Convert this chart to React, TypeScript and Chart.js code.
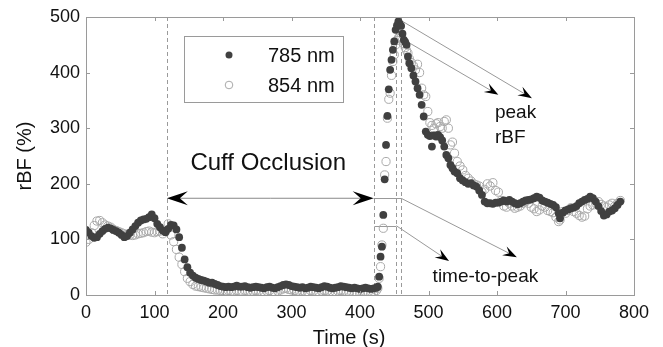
import React, { useEffect, useRef } from "react";
import { Chart, registerables } from "chart.js";

Chart.register(...registerables);

// ---- data ----
const timeSec = [
  0, 4, 8, 12, 16, 20, 24, 28, 32, 36,
  40, 44, 48, 52, 56, 60, 64, 68, 72, 76,
  80, 84, 88, 92, 96, 100, 104, 108, 112, 116,
  120, 124, 128, 132, 136, 140, 144, 148, 152, 156,
  160, 164, 168, 172, 176, 180, 184, 188, 192, 196,
  200, 204, 208, 212, 216, 220, 224, 228, 232, 236,
  240, 244, 248, 252, 256, 260, 264, 268, 272, 276,
  280, 284, 288, 292, 296, 300, 304, 308, 312, 316,
  320, 324, 328, 332, 336, 340, 344, 348, 352, 356,
  360, 364, 368, 372, 376, 380, 384, 388, 392, 396,
  400, 404, 408, 412, 416, 420,
  424, 426, 428, 430, 432, 434, 436, 438, 440, 442,
  444, 446, 448, 450, 452, 454, 456, 458, 460, 462,
  464, 466, 468, 470, 472,
  475, 478, 481, 484, 487, 490, 493, 496, 499, 502,
  505, 508, 511, 514, 517, 520, 523, 526, 529, 532,
  535, 538,
  542, 546, 550, 554, 558, 562, 566, 570, 574, 578,
  582, 586, 590, 594, 598, 602, 606, 610, 614, 618,
  622, 626, 630, 634, 638, 642, 646, 650, 654, 658,
  662, 666, 670, 674, 678, 682, 686, 690,
  692, 696, 700, 704, 708, 712, 716, 720, 724, 728,
  732, 736, 740, 744, 748, 752, 756, 760, 764, 768,
  772, 776, 780,
];

const rbf785 = [
  117, 112, 106, 103, 104, 110, 115, 119, 121, 120,
  117, 115, 112, 108, 104, 106, 112, 118, 124, 130,
  134, 136, 137, 140, 145, 138, 128, 122, 116, 113,
  119, 126, 125, 118, 104, 85, 64, 50, 40, 35,
  31, 29, 27, 26, 24, 22, 22, 20, 18, 16,
  15, 14, 15, 14, 15, 17, 15, 15, 16, 14,
  13, 14, 15, 14, 13, 12, 14, 15, 13, 12,
  14, 16, 18, 19, 18, 16, 15, 14, 13, 14,
  12, 13, 15, 14, 13, 12, 14, 16, 15, 13,
  12, 13, 14, 16, 15, 14, 13, 12, 13, 12,
  11, 12, 13, 12, 11, 12,
  13, 15, 33, 69, 87, 144, 208, 270, 322, 370,
  405, 423, 441, 456, 477, 485, 492, 488, 484, 470,
  459, 455, 450, 429, 417,
  408, 395, 384, 372, 360, 342, 321, 294, 288, 286,
  267, 287, 285, 288, 284, 278, 267, 252, 246, 234,
  228, 222,
  219, 210, 206, 203, 200, 201, 197, 195, 188, 180,
  168, 165, 165, 164, 166, 166, 168, 170, 168, 171,
  168, 165, 163, 165, 168, 170, 171, 172, 174, 177,
  175, 170, 168, 166, 164, 162, 158, 147,
  138, 148, 152, 154, 156, 157, 160, 165, 168, 171,
  173, 177, 174, 168, 160, 151, 143, 145, 150, 152,
  156, 162, 168,
];

const rbf854 = [
  95, 100, 112, 125, 133, 134, 130, 126, 124, 122,
  118, 116, 114, 112, 110, 109, 108, 107, 108, 110,
  111, 112, 114, 115, 113, 112, 114, 115, 110, 114,
  128, 108, 96, 82, 68, 55, 42, 30, 24, 19,
  16, 15, 14, 13, 12, 11, 10, 9, 9, 8,
  8, 7, 8, 7, 6, 8, 7, 6, 8, 7,
  6, 7, 8, 7, 6, 5, 7, 8, 6, 5,
  7, 9, 11, 12, 10, 9, 8, 7, 6, 7,
  5, 6, 8, 7, 6, 5, 7, 8, 7, 6,
  5, 6, 7, 8, 7, 6, 5, 4, 5, 4,
  4, 5, 6, 5, 4, 5,
  8, 12, 30, 51, 90, 120, 216, 240, 318, 352,
  363, 395, 420, 432, 450, 458, 462, 465, 463, 458,
  452, 445, 440, 435, 425,
  418, 412, 405, 415, 400, 372, 360, 357, 330, 310,
  305, 300, 308, 310, 303, 300, 312, 315, 300, 270,
  275, 255,
  240, 232, 225, 215, 210, 205, 200, 198, 196, 185,
  190, 200, 196, 202, 188, 185, 170, 160, 158, 165,
  160, 156, 158, 160, 165, 168, 165, 158, 155, 150,
  153, 160, 158, 152, 150, 148, 140, 132,
  135, 150, 147, 152, 157, 150, 147, 143, 140, 142,
  155, 160, 162, 165, 168, 163, 160, 158, 162, 165,
  160, 165, 170,
];

const seriesNames = ["785 nm", "854 nm"];
const xTickValues = [0, 100, 200, 300, 400, 500, 600, 700, 800];
const yTickValues = [0, 100, 200, 300, 400, 500];
const eventTimes = [118, 420, 453, 460];

const FONT = "'Liberation Sans', Arial, Helvetica, sans-serif";
const DARK = "#404040";
const LIGHT = "#a9a9a9";

function drawArrow(ctx: CanvasRenderingContext2D, x0: number, y0: number, x1: number, y1: number, len: number, hw: number, lineColor: string) {
  const dx = x1 - x0, dy = y1 - y0;
  const d = Math.hypot(dx, dy);
  const ux = dx / d, uy = dy / d;
  const nx = -uy, ny = ux;
  const bx = x1 - ux * len, by = y1 - uy * len;
  const notch = 0.62;
  ctx.strokeStyle = lineColor;
  ctx.lineWidth = 1;
  ctx.beginPath();
  ctx.moveTo(x0, y0);
  ctx.lineTo(x1 - ux * len * notch, y1 - uy * len * notch);
  ctx.stroke();
  ctx.fillStyle = "#000";
  ctx.beginPath();
  ctx.moveTo(x1, y1);
  ctx.lineTo(bx + nx * hw, by + ny * hw);
  ctx.lineTo(x1 - ux * len * notch, y1 - uy * len * notch);
  ctx.lineTo(bx - nx * hw, by - ny * hw);
  ctx.closePath();
  ctx.fill();
}

const overlay = {
  id: "overlay",
  beforeDatasetsDraw(chart: any) {
    const { ctx, chartArea: a, scales } = chart;
    const x = scales.x, y = scales.y;
    ctx.save();
    ctx.strokeStyle = "#9a9a9a";
    ctx.lineWidth = 1;
    ctx.setLineDash([4, 3]);
    for (const t of eventTimes) {
      const px = Math.round(x.getPixelForValue(t)) + 0.5;
      ctx.beginPath();
      ctx.moveTo(px, a.top);
      ctx.lineTo(px, a.bottom);
      ctx.stroke();
    }
    ctx.setLineDash([]);
    ctx.strokeStyle = "#999";
    const levels = [
      [420, 460, 174],
      [421, 453, 124.6],
    ];
    for (const [t0, t1, v] of levels) {
      const py = Math.round(y.getPixelForValue(v)) + 0.5;
      ctx.beginPath();
      ctx.moveTo(x.getPixelForValue(t0), py);
      ctx.lineTo(x.getPixelForValue(t1), py);
      ctx.stroke();
    }
    ctx.restore();
  },
  afterDatasetsDraw(chart: any) {
    const { ctx, chartArea: a, scales } = chart;
    const x = scales.x, y = scales.y;
    ctx.save();
    ctx.strokeStyle = "#9a9a9a";
    ctx.lineWidth = 1;
    ctx.strokeRect(Math.round(a.left) + 0.5, Math.round(a.top) + 0.5, Math.round(a.right - a.left), Math.round(a.bottom - a.top));
    const tl = 4;
    ctx.beginPath();
    for (const v of xTickValues) {
      const px = Math.round(x.getPixelForValue(v)) + 0.5;
      ctx.moveTo(px, a.bottom); ctx.lineTo(px, a.bottom - tl);
      ctx.moveTo(px, a.top); ctx.lineTo(px, a.top + tl);
    }
    for (const v of yTickValues) {
      const py = Math.round(y.getPixelForValue(v)) + 0.5;
      ctx.moveTo(a.left, py); ctx.lineTo(a.left + tl, py);
      ctx.moveTo(a.right, py); ctx.lineTo(a.right - tl, py);
    }
    ctx.stroke();

    const yo = y.getPixelForValue(174);
    const xl = x.getPixelForValue(118), xr = x.getPixelForValue(420);
    const xm = (xl + xr) / 2;
    drawArrow(ctx, xm, yo, xl, yo, 21, 7, "#888");
    drawArrow(ctx, xm, yo, xr, yo, 21, 7, "#888");

    const arrows = [
      [460, 174, 629, 68],
      [453, 124.6, 530, 61],
      [463, 491.5, 651, 354],
      [473, 452.7, 602, 360],
    ];
    for (const [t0, v0, t1, v1] of arrows) {
      drawArrow(ctx, x.getPixelForValue(t0), y.getPixelForValue(v0), x.getPixelForValue(t1), y.getPixelForValue(v1), 14, 5, "#999");
    }

    ctx.fillStyle = "#111";
    ctx.textBaseline = "alphabetic";
    ctx.font = `24px ${FONT}`;
    ctx.textAlign = "center";
    ctx.fillText("Cuff Occlusion", x.getPixelForValue(266), y.getPixelForValue(225));
    ctx.font = `19px ${FONT}`;
    ctx.textAlign = "left";
    ctx.fillText("peak", x.getPixelForValue(597), y.getPixelForValue(318));
    ctx.fillText("rBF", x.getPixelForValue(597), y.getPixelForValue(273));
    ctx.fillText("time-to-peak", x.getPixelForValue(506), y.getPixelForValue(24));

    ctx.font = `20px ${FONT}`;
    ctx.textAlign = "center";
    ctx.fillText("Time (s)", 349, 344);

    const lx = a.left + 98, ly = a.top + 19, lw = 159, lh = 66;
    ctx.fillStyle = "#fff";
    ctx.fillRect(lx, ly, lw, lh);
    ctx.strokeStyle = "#9a9a9a";
    ctx.strokeRect(Math.round(lx) + 0.5, Math.round(ly) + 0.5, lw, lh);
    ctx.fillStyle = DARK;
    ctx.beginPath();
    ctx.arc(lx + 45, ly + 19, 3.5, 0, Math.PI * 2);
    ctx.fill();
    ctx.strokeStyle = LIGHT;
    ctx.beginPath();
    ctx.arc(lx + 45, ly + 49, 3.8, 0, Math.PI * 2);
    ctx.stroke();
    ctx.fillStyle = "#111";
    ctx.font = `20px ${FONT}`;
    ctx.textAlign = "left";
    ctx.fillText(seriesNames[0], lx + 84, ly + 26);
    ctx.fillText(seriesNames[1], lx + 84, ly + 56);
    ctx.restore();
  },
};

export default function App() {
  const canvasRef = useRef<HTMLCanvasElement | null>(null);

  useEffect(() => {
    if (!canvasRef.current) return;
    Chart.defaults.font.family = FONT;
    Chart.defaults.color = "#111";
    const chart = new Chart(canvasRef.current, {
      type: "scatter",
      data: {
        datasets: [
          {
            label: seriesNames[0],
            data: timeSec.map((t, i) => ({ x: t, y: rbf785[i] })),
            pointRadius: 3.9,
            pointBackgroundColor: DARK,
            pointBorderColor: DARK,
            pointBorderWidth: 0,
            showLine: false,
          },
          {
            label: seriesNames[1],
            data: timeSec.map((t, i) => ({ x: t, y: rbf854[i] })),
            pointRadius: 4.1,
            pointBackgroundColor: "rgba(0,0,0,0)",
            pointBorderColor: LIGHT,
            pointBorderWidth: 1,
            showLine: false,
          },
        ],
      },
      options: {
        animation: false,
        responsive: true,
        maintainAspectRatio: false,
        events: [],
        layout: { padding: { left: 0, top: 17, right: 29, bottom: 0 } },
        plugins: { legend: { display: false }, tooltip: { enabled: false } },
        scales: {
          x: {
            type: "linear",
            min: 0,
            max: 800,
            grid: { display: false, drawTicks: false },
            border: { display: false },
            afterBuildTicks: (s: any) => {
              s.ticks = xTickValues.map((v) => ({ value: v }));
            },
            afterFit: (s: any) => {
              s.height = 52;
            },
            ticks: { padding: 7, font: { size: 18 }, color: "#111", maxRotation: 0, autoSkip: false },
          },
          y: {
            type: "linear",
            min: 0,
            max: 500,
            grid: { display: false, drawTicks: false },
            border: { display: false },
            afterBuildTicks: (s: any) => {
              s.ticks = yTickValues.map((v) => ({ value: v }));
            },
            afterFit: (s: any) => {
              s.width = 86;
            },
            ticks: { padding: 6, font: { size: 18 }, color: "#111" },
            title: {
              display: true,
              text: "rBF (%)",
              font: { size: 20, lineHeight: 1 },
              color: "#111",
              padding: { top: 15, bottom: 0 },
            },
          },
        },
      },
      plugins: [overlay],
    } as any);
    return () => chart.destroy();
  }, []);

  return (
    <div style={{ position: "absolute", left: 0, top: 0, width: 663, height: 347, background: "#fff" }}>
      <canvas ref={canvasRef} />
    </div>
  );
}
